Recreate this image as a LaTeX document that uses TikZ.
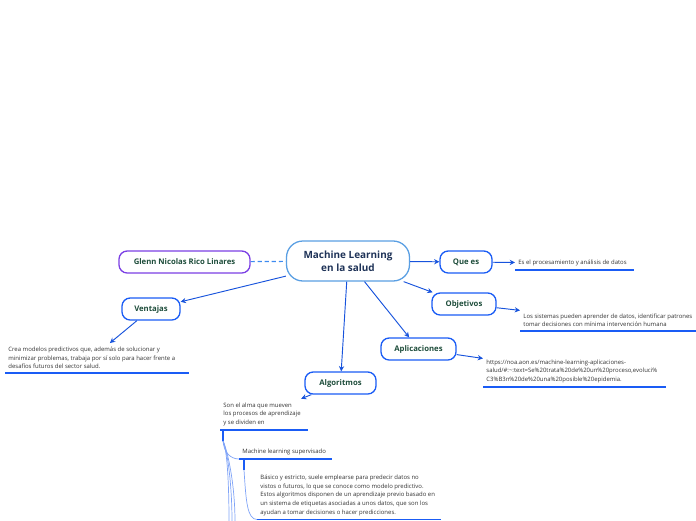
\documentclass[tikz,border=0pt]{standalone}
\usepackage{fontspec}
\setmainfont{Open Sans}
\usetikzlibrary{arrows.meta}
\definecolor{cnavy}{HTML}{1F3358}
\definecolor{cgreen}{HTML}{1E4D3B}
\definecolor{cblue}{HTML}{1A5CF5}
\definecolor{clight}{HTML}{5A9FE3}
\definecolor{cdash}{HTML}{3D8BF0}
\definecolor{cpurple}{HTML}{7B3FE4}
\definecolor{cbranch}{HTML}{7FA3F7}
\definecolor{ctext}{HTML}{333333}
\tikzset{
  every picture/.style={x=0.03cm, y=-0.03cm, line width=0.8pt},
  topic/.style={draw=#1, fill=white, rounded corners=7pt, line width=1.1pt, minimum height=0.66cm, inner sep=2pt, text=cgreen, font=\fontsize{6.6}{7.5}\selectfont\bfseries},
  topic/.default=cblue,
  arrow/.style={-{Stealth[length=4.5pt, width=4.5pt]}, draw=cblue!90!black},
  note/.style={anchor=south west, align=left, text=ctext, inner xsep=2.5pt, inner ysep=3pt, font=\fontsize{5.1}{7.4}\selectfont},
  uline/.style={draw=cblue, line width=1.6pt},
  branch/.style={draw=cbranch, line width=0.6pt},
  stub/.style={draw=cblue, line width=1.2pt},
}

\begin{document}
\begin{tikzpicture}
  \useasboundingbox (0,0) rectangle (696,520);
  \node[topic=clight, minimum width=3.69cm, minimum height=1.2cm, rounded corners=14pt, text=cnavy, align=center, font=\fontsize{8.5}{11.5}\selectfont\bfseries] (ml) at (348,261) {Machine Learning\\en la salud};
  \node[topic=cpurple, minimum width=3.93cm] (author) at (184.5,262) {Glenn Nicolas Rico Linares};
  \node[topic, minimum width=1.56cm] (ques) at (466,262) {Que es};
  \node[topic, minimum width=1.92cm] (obj) at (464,304) {Objetivos};
  \node[topic, minimum width=2.25cm] (apl) at (418.5,349) {Aplicaciones};
  \node[topic, minimum width=1.74cm] (ven) at (151,309) {Ventajas};
  \node[topic, minimum width=2.13cm] (alg) at (340.5,383) {Algoritmos};

  \draw[cdash, line width=1pt, dash pattern=on 3.5pt off 2.5pt] (author) -- (ml);
  \foreach \t in {ques,obj,apl,alg,ven} \draw[arrow] (ml) -- (\t);

  % texts hanging off each topic, each one underlined
  \node[note] (qtxt) at (515,270) {Es el procesamiento y análisis de datos};
  \node[note] (otxt) at (520,331) {Los sistemas pueden aprender de datos, identificar patrones\\tomar decisiones con mínima intervención humana};
  \node[note] (atxt) at (483,387) {https://noa.aon.es/machine-learning-aplicaciones-\\salud/\#:\textasciitilde:text=Se\%20trata\%20de\%20un\%20proceso,evoluci\%\\C3\%B3n\%20de\%20una\%20posible\%20epidemia.};
  \node[note] (vtxt) at (5,373) {Crea modelos predictivos que, además de solucionar y\\minimizar problemas, trabaja por sí solo para hacer frente a\\desafíos futuros del sector salud.};
  \node[note] (gtxt) at (220,430) {Son el alma que mueven\\los procesos de aprendizaje\\y se dividen en};
  \node[note] (stxt) at (239,459) {Machine learning supervisado};
  \node[note] (btxt) at (257,519.5) {Básico y estricto, suele emplearse para predecir datos no\\vistos o futuros, lo que se conoce como modelo predictivo.\\Estos algoritmos disponen de un aprendizaje previo basado en\\un sistema de etiquetas asociadas a unos datos, que son los\\ayudan a tomar decisiones o hacer predicciones.};
  \foreach \n/\l in {qtxt/119, otxt/190, atxt/183, vtxt/184, gtxt/88, stxt/93, btxt/184}
    \draw[uline] (\n.south west) -- ++(\l,0);
  \foreach \a/\b in {ques/qtxt, obj/otxt, apl/atxt, ven/vtxt, alg/gtxt} \draw[arrow] (\a) -- (\b);

  % algorithm tree, running on below the page
  \draw[stub] ([xshift=0.09cm]gtxt.south west) -- ++(0,11) coordinate (g1);
  \draw[branch] (g1) .. controls +(1,12) and +(-8,0) .. (stxt.south west);
  \foreach \x in {229,232,235} {
    \coordinate (e\x) at (\x,522);
    \draw[branch] (g1) .. controls +(4,8) and +(0,-40) .. (e\x);
  }
  \draw[stub] ([xshift=0.15cm]stxt.south west) -- ++(0,11) coordinate (s1);
  \draw[branch] (s1) .. controls +(2,30) and +(-10,0) .. (btxt.south west);
\end{tikzpicture}
\end{document}
